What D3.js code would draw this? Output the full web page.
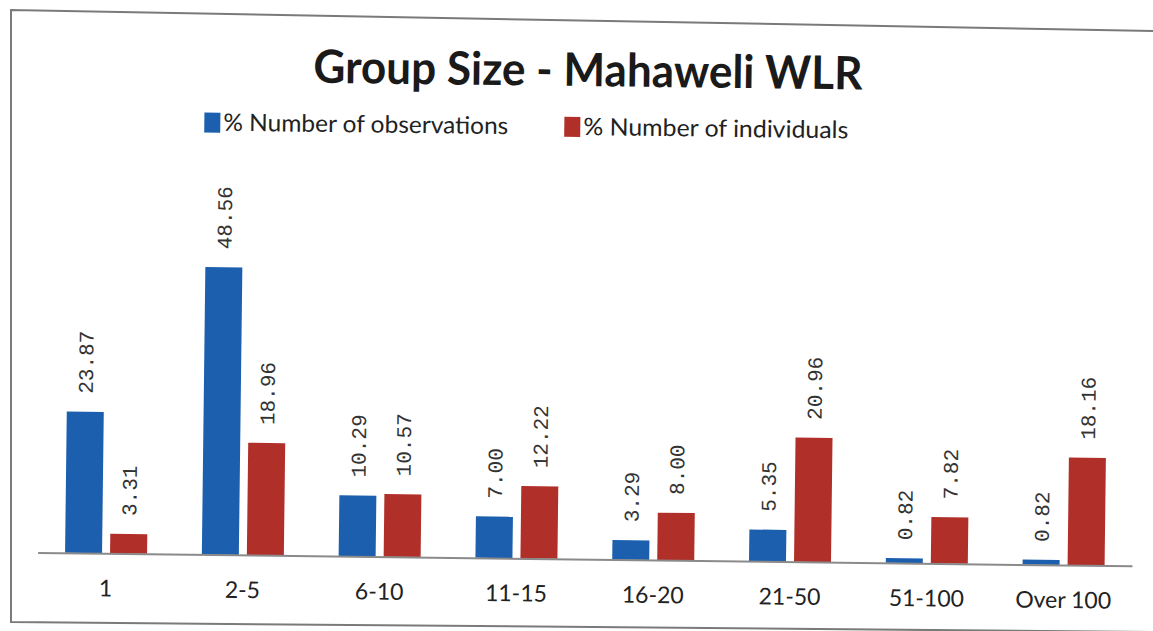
<!DOCTYPE html>
<meta charset="utf-8">

<head>
    <style>
        body { margin: 0; background: #fff; }

        .title {
            font-family: Lato, 'Open Sans', sans-serif;
            font-size: 46px;
            font-weight: 700;
            text-anchor: middle;
            fill: #1a1a1a;
        }

        .legend-label {
            font-family: Lato, 'Open Sans', sans-serif;
            font-size: 24px;
            fill: #222;
        }

        .x-label {
            font-family: Lato, 'Open Sans', sans-serif;
            font-size: 23px;
            text-anchor: middle;
            fill: #222;
        }

        .value-label {
            font-family: 'Liberation Mono', 'DejaVu Sans Mono', monospace;
            font-size: 21px;
            fill: #333;
        }
    </style>
</head>

<script src="https://d3js.org/d3.v7.min.js"></script>

<div id="chart"></div>

<script>

    // chart values
    const categories = ["1", "2-5", "6-10", "11-15", "16-20", "21-50", "51-100", "Over 100"];
    const seriesNames = ["% Number of observations", "% Number of individuals"];
    const observations = [23.87, 48.56, 10.29, 7.00, 3.29, 5.35, 0.82, 0.82];
    const individuals = [3.31, 18.96, 10.57, 12.22, 8.00, 20.96, 7.82, 18.16];
    const colors = ["#1b5fae", "#b12f29"];

    const width = 1153, height = 631;
    const baseY = 559;

    const svg = d3.select("#chart")
        .append("svg")
        .attr("width", width)
        .attr("height", height);

    // scanned frame (slightly skewed like the paper)
    svg.append("path")
        .attr("d", "M1153,31 L11,10 L11,622 L1153,632")
        .attr("fill", "none")
        .attr("stroke", "#7a7a7a")
        .attr("stroke-width", 2);

    // the page was scanned a little crooked
    const g = svg.append("g")
        .attr("transform", "rotate(0.7, 576, 315)");

    // scales
    const x0 = d3.scaleBand()
        .domain(categories)
        .range([40.6, 1135]);

    const groupW = 82;
    const x1 = d3.scaleBand()
        .domain(seriesNames)
        .range([(x0.bandwidth() - groupW) / 2, (x0.bandwidth() + groupW) / 2])
        .paddingInner(0.178);

    const y = d3.scaleLinear()
        .domain([0, 50])
        .range([baseY, baseY - 296]);

    const rows = categories.map((c, i) => ({
        cat: c,
        vals: [
            { s: seriesNames[0], v: observations[i], k: 0 },
            { s: seriesNames[1], v: individuals[i], k: 1 }
        ]
    }));

    // bars
    const groups = g.selectAll(".grp")
        .data(rows)
        .enter()
        .append("g")
        .attr("class", "grp")
        .attr("transform", d => "translate(" + x0(d.cat) + ",0)");

    groups.selectAll("rect")
        .data(d => d.vals)
        .enter()
        .append("rect")
        .attr("x", d => x1(d.s))
        .attr("y", d => y(d.v))
        .attr("width", x1.bandwidth())
        .attr("height", d => y(0) - y(d.v))
        .attr("fill", d => colors[d.k]);

    // rotated value labels
    groups.selectAll("text")
        .data(d => d.vals)
        .enter()
        .append("text")
        .attr("class", "value-label")
        .attr("transform", d => "translate(" + (x1(d.s) + x1.bandwidth() / 2) + "," + (y(d.v) - 18) + ") rotate(-90)")
        .attr("dy", "0.35em")
        .text(d => d.v.toFixed(2));

    // x axis
    const xAxis = g.append("g")
        .attr("transform", "translate(0," + baseY + ")")
        .call(d3.axisBottom(x0).tickSize(0).tickPadding(0));
    xAxis.select(".domain")
        .attr("stroke", "#8a8a8a")
        .attr("stroke-width", 2);
    xAxis.selectAll(".tick text")
        .attr("class", "x-label")
        .attr("font-family", null)
        .attr("font-size", null)
        .attr("fill", null)
        .attr("dy", null)
        .attr("y", 43);

    // title
    g.append("text")
        .attr("class", "title")
        .attr("x", 585)
        .attr("y", 86)
        .attr("textLength", 549)
        .attr("lengthAdjust", "spacingAndGlyphs")
        .text("Group Size - Mahaweli WLR");

    // legend
    const legend = [
        { x: 202, w: 285 },
        { x: 562, w: 265 }
    ];
    legend.forEach((l, i) => {
        g.append("rect")
            .attr("x", l.x)
            .attr("y", 117)
            .attr("width", 16)
            .attr("height", 20)
            .attr("fill", colors[i]);
        g.append("text")
            .attr("class", "legend-label")
            .attr("x", l.x + 19)
            .attr("y", 135)
            .attr("textLength", l.w)
            .attr("lengthAdjust", "spacingAndGlyphs")
            .text(seriesNames[i]);
    });
</script>
